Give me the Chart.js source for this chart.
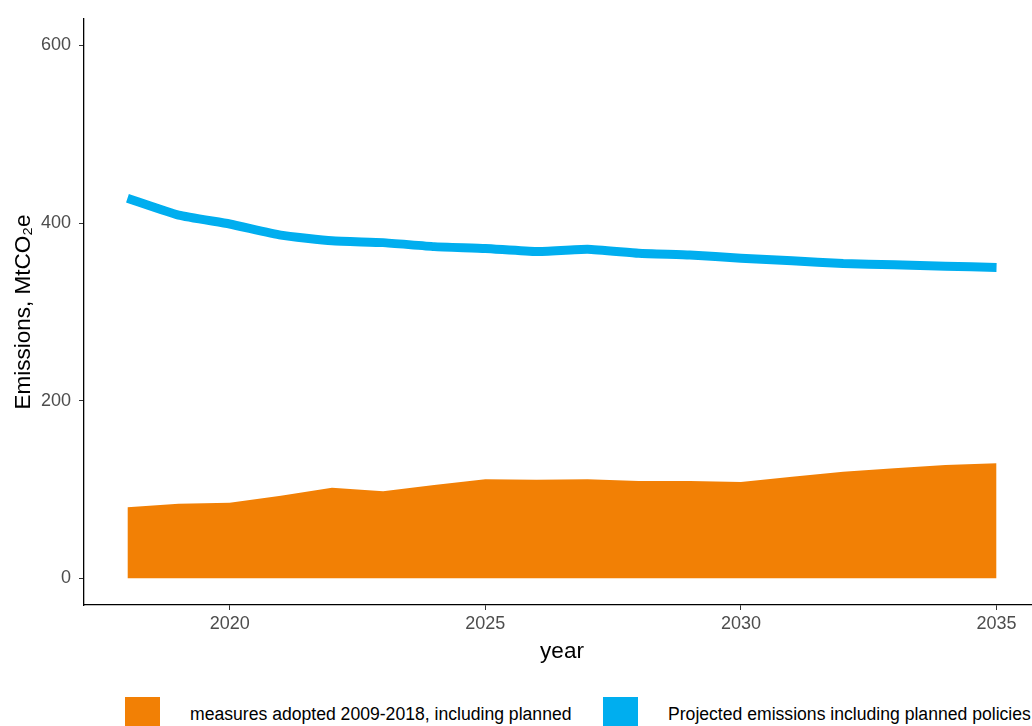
<!DOCTYPE html>
<html>
<head>
<meta charset="utf-8">
<script src="https://cdn.jsdelivr.net/npm/chart.js@4.4.1/dist/chart.umd.min.js"></script>
<style>
  html, body { margin: 0; padding: 0; background: #fff; overflow: hidden; width: 1032px; height: 726px; }
  #wrap { position: absolute; left: 0; top: 0; }
  #legend { position: absolute; top: 697px; left: 0; width: 1100px; font-family: "Liberation Sans", Arial, sans-serif; font-size: 17.6px; color: #000; }
  .item { position: absolute; top: 0; display: flex; align-items: center; white-space: nowrap; }
  .box { width: 35px; height: 34px; margin-right: 30px; }
</style>
</head>
<body>
<div id="wrap"><canvas id="chart" width="1040" height="680"></canvas></div>
<div id="legend"></div>
<script>
const years = [2018, 2019, 2020, 2021, 2022, 2023, 2024, 2025, 2026, 2027, 2028, 2029, 2030, 2031, 2032, 2033, 2034, 2035];
const measuresAdopted = [80, 84, 85, 93, 102, 98, 105, 111.5, 111, 111.5, 109.5, 109.5, 108.5, 114.5, 120, 124, 127.5, 129.5];
const projectedEmissions = [428, 409, 399, 386.5, 380, 378, 373.5, 371.5, 368, 370.5, 366, 364, 360.5, 357.5, 354.5, 353, 351.5, 350];
const xTicks = [2020, 2025, 2030, 2035];
const yTicks = [0, 200, 400, 600];
const seriesNames = ["measures adopted 2009-2018, including planned", "Projected emissions including planned policies"];
const seriesColors = ["#F28005", "#00AEEF"];

const toPoints = (values) => values.map((v, i) => ({ x: years[i], y: v }));
const tickFont = { family: "'Liberation Sans', Arial, sans-serif", size: 18 };
const titleFont = { family: "'Liberation Sans', Arial, sans-serif", size: 22.5 };

new Chart(document.getElementById("chart"), {
    type: "line",
    data: {
        datasets: [
            {
                label: seriesNames[1],
                data: toPoints(projectedEmissions),
                borderColor: seriesColors[1],
                borderWidth: 9,
                borderCapStyle: "butt",
                borderJoinStyle: "round",
                pointRadius: 0,
                fill: false,
                tension: 0.15
            },
            {
                label: seriesNames[0],
                data: toPoints(measuresAdopted),
                backgroundColor: seriesColors[0],
                borderColor: seriesColors[0],
                borderWidth: 0,
                pointRadius: 0,
                fill: "origin",
                tension: 0
            }
        ]
    },
    options: {
        responsive: false,
        animation: false,
        layout: { padding: { left: 0, right: 0, top: 16, bottom: 0 } },
        plugins: { legend: { display: false }, tooltip: { enabled: false } },
        scales: {
            x: {
                type: "linear",
                min: 2017.15,
                max: 2035.85,
                afterBuildTicks: (scale) => { scale.ticks = xTicks.map((v) => ({ value: v })); },
                afterFit: (scale) => { scale.height = 75; },
                ticks: { color: "#4d4d4d", font: tickFont, padding: 3, maxRotation: 0, callback: (v) => String(v) },
                grid: { display: true, drawOnChartArea: false, drawTicks: true, tickLength: 5, color: "#333" },
                border: { display: true, color: "#000", width: 1.3 },
                title: { display: true, text: "year", color: "#000", font: titleFont, padding: { top: 4, bottom: 15 } }
            },
            y: {
                type: "linear",
                min: -30,
                max: 630,
                afterBuildTicks: (scale) => { scale.ticks = yTicks.map((v) => ({ value: v })); },
                afterFit: (scale) => { scale.width = 84; },
                ticks: { color: "#4d4d4d", font: tickFont, padding: 8, callback: (v) => String(v) },
                grid: { display: true, drawOnChartArea: false, drawTicks: true, tickLength: 5, color: "#333" },
                border: { display: true, color: "#000", width: 1.3 },
                title: { display: true, text: "Emissions, MtCO₂e", color: "#000", font: titleFont, padding: { top: 10, bottom: 0 } }
            }
        }
    }
});

// legend below the chart, cut by the window edge as in the original
const legendEl = document.getElementById("legend");
const legendLeft = [125, 603];
seriesNames.forEach((name, i) => {
    const item = document.createElement("div");
    item.className = "item";
    item.style.left = legendLeft[i] + "px";
    item.innerHTML = `<span class="box" style="background:${seriesColors[i]}"></span><span>${name}</span>`;
    legendEl.appendChild(item);
});
</script>
</body>
</html>
